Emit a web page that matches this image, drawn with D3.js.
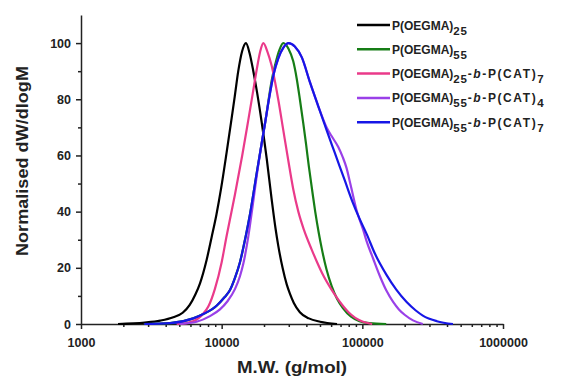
<!DOCTYPE html>
<html>
<head>
<meta charset="utf-8">
<script src="https://cdn.jsdelivr.net/npm/d3@7"></script>
<style>
  html, body { margin: 0; padding: 0; background: #fff; }
  svg { display: block; font-family: "Liberation Sans", Arial, sans-serif; }
</style>
</head>
<body>
<svg id="chart" width="565" height="378"></svg>
<script>
// --- data (molecular weight in g/mol, normalised dW/dlogM) ---
const oegma25MW = [1832, 2838, 3656, 4529, 5284, 5929, 6501, 7015, 7816, 8492, 9183, 9886, 10840, 11830, 12390, 13120,
  13960, 14890, 15780, 16790, 17910, 19230, 20890, 22650, 24150, 25230, 27100, 29040, 30550, 32580, 35970, 41690,
  50120, 66070];
const oegma25Y = [0, 0.5, 1.2, 2.4, 4.0, 6.8, 10.5, 14.5, 22.8, 31, 39, 48, 61, 74, 81, 90,
  97, 100, 96.5, 90, 82, 72, 59, 44.5, 34, 28, 20, 14, 10.8, 7.5, 4.2, 2.0,
  0.8, 0];

const oegma55MW = [2818, 4295, 6281, 7586, 9204, 10470, 11460, 12450, 13490, 14790, 15890, 17780, 19500, 20420,
  21430, 22650, 23930, 25700, 27420, 29850, 32280, 34120, 35970, 38020, 39810, 41690, 44160, 46240, 48980, 51400,
  55590, 60530, 66070, 72780, 83180, 95500, 112200, 147900];
const oegma55Y = [0, 0.3, 2, 3.8, 6.5, 9.5, 12.1, 16.5, 22, 31, 39, 54, 66, 72,
  79, 86.5, 92, 97.5, 100, 98, 93.5, 87.5, 80, 71.5, 64, 56, 47, 40, 32.5, 27,
  19.5, 13.5, 9, 5.7, 2.6, 1.0, 0.3, 0];

const oegma25cat7MW = [4786, 5636, 6823, 7345, 8035, 8954, 10000, 10860, 11640, 12420, 14000, 15450, 16630, 17740, 18790,
  19770, 21130, 22650, 25230, 27420, 29720, 32280, 35080, 38460, 43650, 47860, 52480, 60260, 66070, 72440, 79430,
  89130, 100000, 117500];
const oegma25cat7Y = [0, 0.3, 2.0, 3.5, 6.2, 12.5, 22, 31.5, 39, 46, 60, 72.5, 82, 90.5, 97,
  100, 97, 92, 80, 69, 58.4, 48, 40, 33.5, 26.5, 21.8, 17.5, 12.3, 9.3, 6.6, 4.3,
  2.2, 0.9, 0];

const oegma55cat4MW = [5012, 6637, 8260, 9727, 10960, 12450, 13490, 14260, 15450, 16600, 17780, 19500, 20420, 22030,
  23440, 25230, 27540, 29850, 33110, 37070, 42460, 48640, 55720, 60260, 67450, 72440, 77270, 81660, 86100, 91000,
  96610, 101400, 107200, 118900, 133400, 147900, 166000, 182000, 200900, 229100, 269200];
const oegma55cat4Y = [0, 0.8, 2.8, 5.2, 8, 12.5, 17, 21.5, 31, 42, 53, 66, 72, 82,
  89, 94.5, 98.5, 100, 98.8, 95, 86, 77.5, 70, 67, 63, 59.5, 55.5, 50.5, 45.5, 40.5,
  36.5, 33.5, 29.5, 23.5, 17, 12, 7.8, 5.2, 3.2, 1.3, 0];

const oegma55cat7MW = [2818, 4295, 6281, 7586, 9204, 10470, 11460, 12450, 13490, 14790, 15890, 17780, 19500, 20420, 22030,
  23440, 25230, 27540, 29850, 33110, 37070, 42460, 48640, 55720, 63100, 75160, 85110, 95500, 107400, 123000,
  148900, 173800, 206500, 239900, 269200, 338800, 440600];
const oegma55cat7Y = [0, 0.3, 2, 3.8, 6.5, 9.5, 12.1, 16.5, 22, 31, 39, 54, 66, 72, 82,
  89, 94.5, 98.5, 100, 98.8, 95, 86, 77.5, 69, 61.5, 51, 43.5, 37.5, 32, 25,
  17.4, 12.3, 7.8, 4.8, 3.0, 1.0, 0];

const seriesColors = ["#000000", "#167d16", "#ea3a8a", "#9a40e8", "#1616e6"];
// legend text pieces: [text, style] where style is "", "sub", "it" or "wide"
const legendLabels = [
  [["P(OEGMA)", ""], ["25", "sub"]],
  [["P(OEGMA)", ""], ["55", "sub"]],
  [["P(OEGMA)", ""], ["25", "sub"], ["-", "wide"], ["b", "it"], ["-P(CAT)", "wide"], ["7", "sub"]],
  [["P(OEGMA)", ""], ["55", "sub"], ["-", "wide"], ["b", "it"], ["-P(CAT)", "wide"], ["4", "sub"]],
  [["P(OEGMA)", ""], ["55", "sub"], ["-", "wide"], ["b", "it"], ["-P(CAT)", "wide"], ["7", "sub"]]
];

const xTickValues = [1000, 10000, 100000, 1000000];
const yTickValues = [0, 20, 40, 60, 80, 100];
const yMinorValues = [10, 30, 50, 70, 90];

const series = [
  {mw: oegma25MW, y: oegma25Y},
  {mw: oegma55MW, y: oegma55Y},
  {mw: oegma25cat7MW, y: oegma25cat7Y},
  {mw: oegma55cat4MW, y: oegma55cat4Y},
  {mw: oegma55cat7MW, y: oegma55cat7Y}
].map((s, i) => ({points: s.mw.map((m, j) => [m, s.y[j]]), color: seriesColors[i], label: legendLabels[i]}));

const svg = d3.select("#chart");
const axisColor = "#222";

const x = d3.scaleLog().domain([1000, 1000000]).range([81, 503]);
const y = d3.scaleLinear().domain([0, 110]).range([324, 15]);

// minor ticks on the log axis (2..9 in each decade)
const xMinorValues = x.ticks().filter(v => !xTickValues.includes(v));

function styleAxis(g) {
  g.selectAll("path, line").attr("stroke", axisColor).attr("stroke-width", 1.5);
  g.selectAll("text").attr("fill", axisColor).attr("font-size", 12.5).attr("font-weight", "bold")
    .attr("font-family", "'Liberation Sans', Arial, sans-serif");
}

// x axis
svg.append("g").attr("transform", "translate(0,324)")
  .call(d3.axisBottom(x).tickValues(xMinorValues).tickSize(3).tickSizeOuter(0).tickFormat(""))
  .call(styleAxis)
  .select(".domain").remove();
svg.append("g").attr("transform", "translate(0,324)")
  .call(d3.axisBottom(x).tickValues(xTickValues).tickSize(5).tickSizeOuter(0).tickPadding(9).tickFormat(d3.format("d")))
  .call(styleAxis);

// y axis
svg.append("g").attr("transform", "translate(81,0)")
  .call(d3.axisLeft(y).tickValues(yMinorValues).tickSize(3).tickSizeOuter(0).tickFormat(""))
  .call(styleAxis)
  .select(".domain").remove();
svg.append("g").attr("transform", "translate(81,0)")
  .call(d3.axisLeft(y).tickValues(yTickValues).tickSize(5).tickSizeOuter(0).tickPadding(5))
  .call(styleAxis);

// axis titles
svg.append("text")
  .attr("x", 292).attr("y", 373)
  .attr("text-anchor", "middle")
  .attr("font-size", 16).attr("font-weight", "bold").attr("fill", axisColor)
  .attr("textLength", 110).attr("lengthAdjust", "spacingAndGlyphs")
  .text("M.W. (g/mol)");

svg.append("text")
  .attr("transform", "translate(27.5,161) rotate(-90)")
  .attr("text-anchor", "middle")
  .attr("font-size", 16).attr("font-weight", "bold").attr("fill", axisColor)
  .attr("textLength", 190).attr("lengthAdjust", "spacingAndGlyphs")
  .text("Normalised dW/dlogM");

// curves
const line = d3.line()
  .x(d => x(d[0]))
  .y(d => y(d[1]))
  .curve(d3.curveMonotoneX);

svg.append("g").selectAll("path")
  .data(series)
  .enter().append("path")
  .attr("fill", "none")
  .attr("stroke", d => d.color)
  .attr("stroke-width", 2.2)
  .attr("stroke-linejoin", "round")
  .attr("d", d => line(d.points));

// legend
const legend = svg.append("g").attr("transform", "translate(357,25)");
const rowH = 24.3;
const rows = legend.selectAll("g")
  .data(series)
  .enter().append("g")
  .attr("transform", (d, i) => `translate(0,${i * rowH})`);

rows.append("line")
  .attr("x1", 0).attr("x2", 33)
  .attr("stroke", d => d.color)
  .attr("stroke-width", 2.5);

const label = rows.append("text")
  .attr("x", 35).attr("y", 4.5)
  .attr("font-size", 12).attr("font-weight", "bold").attr("fill", axisColor);

label.each(function(d) {
  const t = d3.select(this);
  let shifted = false;
  d.label.forEach(([txt, kind]) => {
    const span = t.append("tspan").text(txt);
    if (kind === "sub") {
      span.attr("font-size", 11.5).attr("dy", 5).attr("letter-spacing", 0.8);
      shifted = true;
    } else {
      if (shifted) { span.attr("dy", -5); shifted = false; }
      if (kind === "it") span.attr("font-style", "italic").attr("letter-spacing", 1.6);
      if (kind === "wide") span.attr("letter-spacing", 1.6);
    }
  });
});
</script>
</body>
</html>
